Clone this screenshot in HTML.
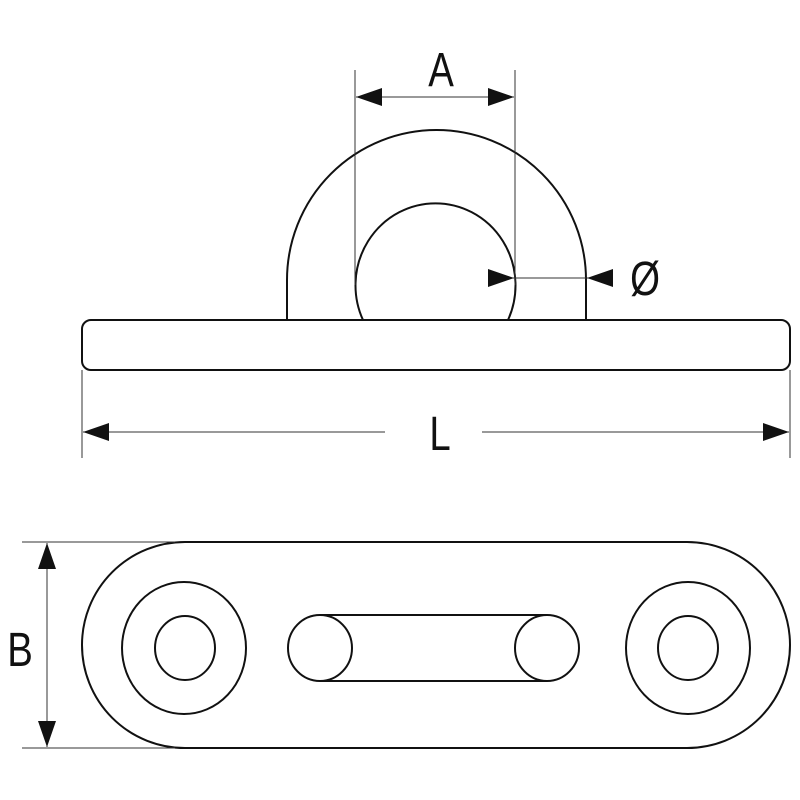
<!DOCTYPE html>
<html><head><style>body{margin:0;background:#fff}svg{display:block}</style></head><body>
<svg width="800" height="800" viewBox="0 0 800 800" xmlns="http://www.w3.org/2000/svg">
<defs>
<marker id="ar" viewBox="0 0 10 10" refX="10" refY="5" markerWidth="26" markerHeight="18" markerUnits="userSpaceOnUse" preserveAspectRatio="none" orient="auto-start-reverse"><path d="M0,0L10,5L0,10Z" fill="#111"/></marker>
</defs>
<g fill="none" stroke="#111" stroke-width="2">
<path d="M287,320 L287,280 A149.5,150 0 0 1 586,280 L586,320"/>
<path d="M363,320 A80,82 0 1 1 508,320"/>
<rect x="82" y="320" width="708" height="50" rx="9"/>
<rect x="82" y="542" width="708" height="206" rx="103"/>
<ellipse cx="184" cy="648" rx="62" ry="66"/>
<ellipse cx="185" cy="648" rx="30" ry="32"/>
<ellipse cx="688" cy="648" rx="62" ry="66"/>
<ellipse cx="688" cy="648" rx="30" ry="32"/>
<ellipse cx="320" cy="648" rx="32" ry="33"/>
<ellipse cx="547" cy="648" rx="32" ry="33"/>
<line x1="320" y1="615" x2="547" y2="615"/>
<line x1="320" y1="681" x2="547" y2="681"/>
</g>
<g stroke="#333" stroke-width="1" fill="none">
<line x1="355" y1="70" x2="355" y2="285"/>
<line x1="515" y1="70" x2="515" y2="285"/>
<line x1="356" y1="97" x2="514" y2="97" marker-start="url(#ar)" marker-end="url(#ar)"/>
<line x1="490" y1="278" x2="514" y2="278" marker-end="url(#ar)"/>
<line x1="515" y1="278" x2="586" y2="278"/>
<line x1="612" y1="278" x2="587" y2="278" marker-end="url(#ar)"/>
<line x1="82" y1="370" x2="82" y2="458"/>
<line x1="790" y1="370" x2="790" y2="458"/>
<line x1="385" y1="432" x2="83" y2="432" marker-end="url(#ar)"/>
<line x1="482" y1="432" x2="789" y2="432" marker-end="url(#ar)"/>
<line x1="22" y1="542" x2="175" y2="542"/>
<line x1="22" y1="748" x2="175" y2="748"/>
<line x1="47" y1="648" x2="47" y2="543" marker-end="url(#ar)"/>
<line x1="47" y1="648" x2="47" y2="747" marker-end="url(#ar)"/>
</g>
<g font-family="Liberation Sans, DejaVu Sans, sans-serif" font-size="48" fill="#111" text-anchor="middle">
<text transform="translate(441,86) scale(0.8,1)">A</text>
<text transform="translate(645,295) scale(0.8,1)">Ø</text>
<text transform="translate(440,450) scale(0.8,1)">L</text>
<text transform="translate(20,666) scale(0.8,1)">B</text>
</g>
</svg>
</body></html>
